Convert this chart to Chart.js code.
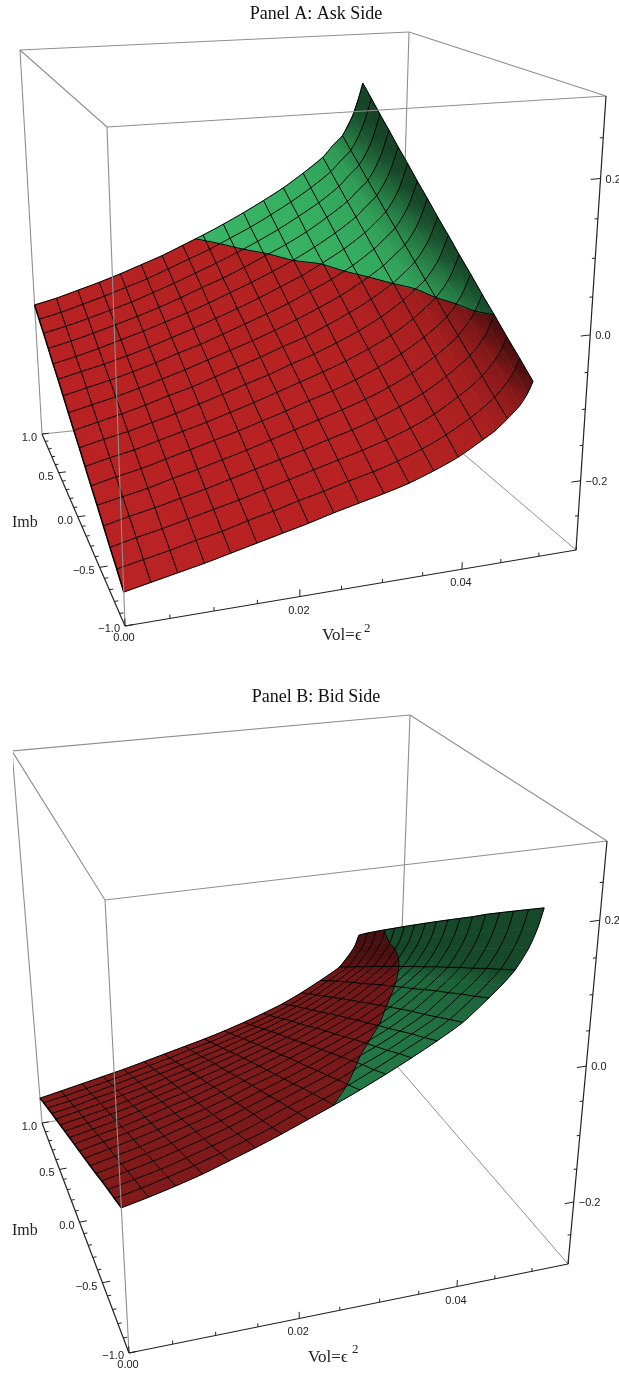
<!DOCTYPE html>
<html>
<head>
<meta charset="utf-8">
<title>Panel A and B</title>
<script src="https://cdn.jsdelivr.net/npm/chart.js@4"></script>
<style>
  body { margin: 0; background: #fff; }
  canvas { display: block; }
</style>
</head>
<body>
<canvas id="ask-chart" width="619" height="660"></canvas>
<canvas id="bid-chart" width="619" height="714"></canvas>
<script>
// rows of the surface tables; the last cell has extra rows because the sheet curls there
const volRows = [0, 0.003, 0.006, 0.009, 0.012, 0.015, 0.018, 0.021, 0.024, 0.027, 0.03, 0.033, 0.036, 0.039, 0.042, 0.0435, 0.045, 0.0465, 0.0474, 0.048];
const volMesh = [0, 0.003, 0.006, 0.009, 0.012, 0.015, 0.018, 0.021, 0.024, 0.027, 0.03, 0.033, 0.036, 0.039, 0.042, 0.045, 0.048];
const imbGrid = [-1, -0.875, -0.75, -0.625, -0.5, -0.375, -0.25, -0.125, 0, 0.125, 0.25, 0.375, 0.5, 0.625, 0.75, 0.875, 1];

// one row per vol value, one column per imb value
const askZ = [
  [-0.255, -0.244, -0.234, -0.223, -0.212, -0.202, -0.191, -0.180, -0.170, -0.159, -0.148, -0.137, -0.127, -0.116, -0.105, -0.095, -0.084],
  [-0.248, -0.237, -0.226, -0.215, -0.205, -0.194, -0.183, -0.172, -0.162, -0.151, -0.140, -0.129, -0.119, -0.108, -0.097, -0.087, -0.076],
  [-0.241, -0.230, -0.219, -0.208, -0.198, -0.187, -0.176, -0.165, -0.154, -0.143, -0.132, -0.121, -0.110, -0.099, -0.088, -0.077, -0.066],
  [-0.234, -0.222, -0.211, -0.200, -0.189, -0.178, -0.167, -0.156, -0.145, -0.134, -0.123, -0.112, -0.100, -0.089, -0.078, -0.067, -0.056],
  [-0.226, -0.215, -0.203, -0.192, -0.181, -0.169, -0.158, -0.147, -0.135, -0.124, -0.113, -0.102, -0.090, -0.079, -0.068, -0.056, -0.045],
  [-0.218, -0.206, -0.195, -0.183, -0.172, -0.160, -0.149, -0.137, -0.126, -0.114, -0.102, -0.091, -0.079, -0.068, -0.056, -0.045, -0.033],
  [-0.210, -0.198, -0.186, -0.174, -0.163, -0.151, -0.139, -0.127, -0.115, -0.103, -0.092, -0.080, -0.068, -0.056, -0.044, -0.032, -0.021],
  [-0.202, -0.189, -0.177, -0.165, -0.153, -0.141, -0.129, -0.116, -0.104, -0.092, -0.080, -0.068, -0.056, -0.043, -0.031, -0.019, -0.007],
  [-0.193, -0.181, -0.168, -0.156, -0.143, -0.131, -0.118, -0.106, -0.093, -0.081, -0.068, -0.056, -0.043, -0.031, -0.018, -0.006, 0.007],
  [-0.185, -0.172, -0.159, -0.146, -0.133, -0.120, -0.107, -0.094, -0.081, -0.069, -0.056, -0.043, -0.030, -0.017, -0.004, 0.009, 0.022],
  [-0.177, -0.164, -0.150, -0.137, -0.123, -0.110, -0.096, -0.083, -0.070, -0.056, -0.043, -0.029, -0.016, -0.002, 0.011, 0.024, 0.038],
  [-0.168, -0.154, -0.140, -0.126, -0.112, -0.098, -0.084, -0.070, -0.056, -0.042, -0.028, -0.015, -0.001, 0.013, 0.027, 0.041, 0.055],
  [-0.156, -0.142, -0.128, -0.113, -0.099, -0.084, -0.070, -0.056, -0.041, -0.027, -0.013, 0.002, 0.016, 0.030, 0.045, 0.059, 0.073],
  [-0.142, -0.127, -0.113, -0.098, -0.083, -0.068, -0.054, -0.039, -0.024, -0.009, 0.005, 0.020, 0.035, 0.050, 0.064, 0.079, 0.094],
  [-0.123, -0.108, -0.093, -0.078, -0.063, -0.048, -0.033, -0.018, -0.003, 0.012, 0.027, 0.042, 0.057, 0.072, 0.087, 0.102, 0.117],
  [-0.113, -0.097, -0.082, -0.066, -0.051, -0.036, -0.020, -0.005, 0.010, 0.026, 0.041, 0.056, 0.072, 0.087, 0.103, 0.118, 0.134],
  [-0.099, -0.084, -0.068, -0.053, -0.037, -0.022, -0.006, 0.009, 0.025, 0.040, 0.056, 0.071, 0.087, 0.102, 0.118, 0.133, 0.149],
  [-0.083, -0.066, -0.050, -0.034, -0.017, -0.001, 0.015, 0.031, 0.048, 0.064, 0.080, 0.096, 0.113, 0.129, 0.145, 0.162, 0.178],
  [-0.068, -0.051, -0.034, -0.016, 0.001, 0.018, 0.035, 0.052, 0.069, 0.086, 0.103, 0.120, 0.137, 0.154, 0.171, 0.188, 0.205],
  [-0.053, -0.035, -0.018, 0.000, 0.017, 0.035, 0.052, 0.070, 0.087, 0.105, 0.122, 0.140, 0.157, 0.175, 0.192, 0.210, 0.227],
];
const bidZ = [
  [-0.090, -0.100, -0.110, -0.120, -0.131, -0.141, -0.151, -0.161, -0.171, -0.181, -0.191, -0.201, -0.211, -0.221, -0.231, -0.241, -0.252],
  [-0.082, -0.092, -0.102, -0.112, -0.123, -0.133, -0.143, -0.153, -0.163, -0.174, -0.184, -0.194, -0.204, -0.215, -0.225, -0.235, -0.245],
  [-0.073, -0.083, -0.094, -0.104, -0.114, -0.125, -0.135, -0.145, -0.156, -0.166, -0.176, -0.187, -0.197, -0.207, -0.218, -0.228, -0.238],
  [-0.063, -0.073, -0.084, -0.094, -0.105, -0.115, -0.126, -0.136, -0.147, -0.157, -0.168, -0.179, -0.189, -0.200, -0.210, -0.221, -0.231],
  [-0.051, -0.062, -0.073, -0.084, -0.094, -0.105, -0.116, -0.127, -0.137, -0.148, -0.159, -0.170, -0.181, -0.191, -0.202, -0.213, -0.224],
  [-0.039, -0.050, -0.062, -0.073, -0.084, -0.095, -0.106, -0.117, -0.128, -0.139, -0.150, -0.161, -0.172, -0.183, -0.194, -0.205, -0.216],
  [-0.026, -0.038, -0.049, -0.060, -0.072, -0.083, -0.095, -0.106, -0.117, -0.129, -0.140, -0.151, -0.163, -0.174, -0.186, -0.197, -0.208],
  [-0.012, -0.023, -0.035, -0.047, -0.059, -0.071, -0.082, -0.094, -0.106, -0.118, -0.130, -0.141, -0.153, -0.165, -0.177, -0.188, -0.200],
  [0.002, -0.010, -0.022, -0.034, -0.047, -0.059, -0.071, -0.083, -0.095, -0.107, -0.119, -0.131, -0.144, -0.156, -0.168, -0.180, -0.192],
  [0.017, 0.004, -0.008, -0.021, -0.033, -0.046, -0.058, -0.070, -0.083, -0.095, -0.108, -0.120, -0.133, -0.145, -0.158, -0.170, -0.183],
  [0.033, 0.020, 0.008, -0.005, -0.018, -0.031, -0.044, -0.057, -0.070, -0.083, -0.096, -0.108, -0.121, -0.134, -0.147, -0.160, -0.173],
  [0.050, 0.037, 0.023, 0.010, -0.003, -0.016, -0.030, -0.043, -0.056, -0.069, -0.083, -0.096, -0.109, -0.122, -0.136, -0.149, -0.162],
  [0.068, 0.054, 0.041, 0.027, 0.013, 0.000, -0.014, -0.027, -0.041, -0.054, -0.068, -0.082, -0.095, -0.109, -0.122, -0.136, -0.150],
  [0.088, 0.074, 0.060, 0.046, 0.033, 0.019, 0.005, -0.009, -0.023, -0.037, -0.051, -0.065, -0.079, -0.093, -0.107, -0.121, -0.135],
  [0.116, 0.101, 0.087, 0.072, 0.058, 0.043, 0.028, 0.014, -0.001, -0.015, -0.030, -0.045, -0.059, -0.074, -0.088, -0.103, -0.118],
  [0.131, 0.116, 0.101, 0.086, 0.071, 0.056, 0.041, 0.026, 0.011, -0.004, -0.019, -0.034, -0.049, -0.064, -0.079, -0.094, -0.109],
  [0.149, 0.133, 0.118, 0.102, 0.087, 0.071, 0.056, 0.040, 0.025, 0.009, -0.006, -0.022, -0.037, -0.053, -0.068, -0.084, -0.099],
  [0.176, 0.160, 0.144, 0.128, 0.112, 0.096, 0.080, 0.064, 0.048, 0.032, 0.016, 0.000, -0.016, -0.032, -0.048, -0.064, -0.080],
  [0.201, 0.184, 0.167, 0.151, 0.134, 0.117, 0.101, 0.084, 0.067, 0.050, 0.034, 0.017, 0.000, -0.016, -0.033, -0.050, -0.066],
  [0.226, 0.209, 0.192, 0.175, 0.158, 0.140, 0.123, 0.106, 0.089, 0.072, 0.055, 0.038, 0.021, 0.004, -0.013, -0.030, -0.048],
];

// vol where the surface turns from red to green, one value per imb value
const askSwitchVol = [0.054, 0.051, 0.0492, 0.048, 0.0471, 0.0462, 0.045, 0.0437, 0.0419, 0.0399, 0.0378, 0.0357, 0.0329, 0.0305, 0.0279, 0.0255, 0.0229];
const bidSwitchVol = [0.0239, 0.0267, 0.029, 0.0311, 0.0336, 0.0362, 0.0383, 0.0405, 0.0426, 0.0444, 0.0458, 0.0467, 0.0473, 0.0479, 0.0489, 0.051, 0.054];

const volTicks = [0, 0.005, 0.01, 0.015, 0.02, 0.025, 0.03, 0.035, 0.04, 0.045, 0.05, 0.055];
const volLabels = [0, 0.02, 0.04];
const imbTicks = [-1, -0.9, -0.8, -0.7, -0.6, -0.5, -0.4, -0.3, -0.2, -0.1, 0, 0.1, 0.2, 0.3, 0.4, 0.5, 0.6, 0.7, 0.8, 0.9, 1];
const imbLabels = [-1, -0.5, 0, 0.5, 1];
const zTicks = [-0.25, -0.2, -0.15, -0.1, -0.05, 0, 0.05, 0.1, 0.15, 0.2, 0.25];
const zLabels = [-0.2, 0, 0.2];

const VOL_MAX = 0.055;
const VOL_STEP = 0.003;
const GRAY = '#8f8f8f';
const SERIF = '"Liberation Serif", serif';
const SANS = '"Liberation Sans", sans-serif';
const TITLE_SIZE = 18;

const askPanel = {
  canvas: 'ask-chart', title: 'Panel A: Ask Side', top: 0, height: 660, titleTop: 3,
  z: askZ, switchVol: askSwitchVol, zMin: -0.3, zMax: 0.3,
  red: [188, 35, 35], green: [58, 190, 105], shadeScale: 0.065, shadeFloor: 0.36,
  // box corners on the page, named vol/imb/z with 0 = low and 1 = high
  c000: [125, 626], c100: [576, 550], c010: [42, 434], c110: [398, 398],
  c001: [107, 127], c101: [606, 96], c011: [20, 50], c111: [409, 32],
  imbTitle: [12, 527], volTitle: [322, 640], volExp: [364, 632],
};
const bidPanel = {
  canvas: 'bid-chart', title: 'Panel B: Bid Side', top: 660, height: 714, titleTop: 26,
  z: bidZ, switchVol: bidSwitchVol, zMin: -0.296, zMax: 0.303,
  red: [134, 27, 27], green: [38, 132, 76], shadeScale: 0.05, shadeFloor: 0.55,
  c000: [129, 1353], c100: [568, 1264], c010: [42, 1123], c110: [397, 1066],
  c001: [105, 900], c101: [607, 841], c011: [12, 751], c111: [410, 715],
  imbTitle: [12, 1235], volTitle: [308, 1362], volExp: [352, 1353],
};

function lerp(a, b, t) {
  return a + (b - a) * t;
}

function warp(t, k) {
  return (t * (1 + k)) / (1 + k * t);
}

// u, v, w are already warped box fractions
function place(p, u, v, w) {
  const out = {};
  [['x', 0], ['y', 1]].forEach(([key, n]) => {
    const low = lerp(lerp(p.c000[n], p.c100[n], u), lerp(p.c010[n], p.c110[n], u), v);
    const high = lerp(lerp(p.c001[n], p.c101[n], u), lerp(p.c011[n], p.c111[n], u), v);
    out[key] = lerp(low, high, w);
  });
  return out;
}

const uOf = (vol) => warp(vol / VOL_MAX, 0.108);
const vOf = (imb) => warp((imb + 1) / 2, 0.32);
const wOf = (p, z) => warp((z - p.zMin) / (p.zMax - p.zMin), -0.1);

function project(p, pt) {
  return place(p, uOf(pt.vol), vOf(pt.imb), wOf(p, pt.z));
}

function lineSet(data, color, width, tension) {
  return { data, showLine: true, pointRadius: 0, borderColor: color, borderWidth: width, fill: false, tension: tension || 0 };
}

function shadeOf(p, i, j) {
  const z = p.z;
  const a = Math.max(i - 1, 0);
  const b = Math.min(i + 1, volRows.length - 1);
  const s = Math.abs((z[b][j] - z[a][j]) / (volRows[b] - volRows[a])) * VOL_STEP;
  return Math.max(p.shadeFloor, 1 / (1 + Math.pow(s / p.shadeScale, 2)));
}

function rgb(base, shade) {
  return `rgb(${base.map((c) => Math.round(c * shade)).join(',')})`;
}

// keeps the side of the polygon where side(pt) has the wanted sign
function clipPoly(poly, side, sign) {
  const out = [];
  poly.forEach((a, n) => {
    const b = poly[(n + 1) % poly.length];
    const fa = side(a) * sign;
    const fb = side(b) * sign;
    if (fa >= 0) out.push(a);
    if ((fa >= 0) !== (fb >= 0)) {
      const t = fa / (fa - fb);
      out.push({ vol: lerp(a.vol, b.vol, t), imb: lerp(a.imb, b.imb, t), z: lerp(a.z, b.z, t) });
    }
  });
  return out;
}

function cellGradient(ctx, p, base, i, j) {
  const at = (ii, jj) => project(p, { vol: volRows[ii], imb: imbGrid[jj], z: p.z[ii][jj] });
  const a = at(i, j);
  const b = at(i, j + 1);
  const c = at(i + 1, j);
  const d = at(i + 1, j + 1);
  const g = ctx.createLinearGradient((a.x + b.x) / 2, (a.y + b.y) / 2 - p.top, (c.x + d.x) / 2, (c.y + d.y) / 2 - p.top);
  g.addColorStop(0, rgb(base, (shadeOf(p, i, j) + shadeOf(p, i, j + 1)) / 2));
  g.addColorStop(1, rgb(base, (shadeOf(p, i + 1, j) + shadeOf(p, i + 1, j + 1)) / 2));
  return g;
}

function surfaceSets(p, ctx) {
  const sets = [];
  for (let i = volRows.length - 2; i >= 0; i--) {
    for (let j = 0; j < imbGrid.length - 1; j++) {
      const cell = [[i, j], [i + 1, j], [i + 1, j + 1], [i, j + 1]].map(([a, b]) => ({ vol: volRows[a], imb: imbGrid[b], z: p.z[a][b] }));
      const side = (pt) => pt.vol - lerp(p.switchVol[j], p.switchVol[j + 1], (pt.imb - imbGrid[j]) / (imbGrid[j + 1] - imbGrid[j]));
      [[p.red, -1], [p.green, 1]].forEach(([base, sign]) => {
        const poly = clipPoly(cell, side, sign);
        if (poly.length < 3) return;
        const data = poly.map((pt) => project(p, pt));
        const paint = cellGradient(ctx, p, base, i, j);
        sets.push({
          data: data.concat([data[0]]),
          showLine: true,
          pointRadius: 0,
          // same paint on the border so neighbouring cells leave no seam
          borderWidth: 0.7,
          borderColor: paint,
          fill: 'shape',
          backgroundColor: paint,
        });
      });
    }
  }
  return sets;
}

function meshSets(p) {
  const sets = [];
  imbGrid.forEach((imb, j) => {
    sets.push(lineSet(volRows.map((vol, i) => project(p, { vol, imb, z: p.z[i][j] })), '#000', 1, 0.3));
  });
  volRows.forEach((vol, i) => {
    if (!volMesh.includes(vol)) return;
    sets.push(lineSet(imbGrid.map((imb, j) => project(p, { vol, imb, z: p.z[i][j] })), '#000', i === 0 ? 1.5 : 1));
  });
  // red/green edge
  const edge = [];
  imbGrid.forEach((imb, j) => {
    const vol = p.switchVol[j];
    if (vol > volRows[volRows.length - 1]) return;
    const i = Math.min(volRows.findIndex((v) => v > vol) - 1, volRows.length - 2);
    const z = lerp(p.z[i < 0 ? volRows.length - 2 : i][j], p.z[i < 0 ? volRows.length - 1 : i + 1][j], i < 0 ? 1 : (vol - volRows[i]) / (volRows[i + 1] - volRows[i]));
    edge.push(project(p, { vol, imb, z }));
  });
  sets.push(lineSet(edge, '#000', 1, 0.3));
  return sets;
}

function boxSets(p, front) {
  const seg = (a, b, color, width) => lineSet([{ x: a[0], y: a[1] }, { x: b[0], y: b[1] }], color, width);
  if (!front) {
    return [
      seg(p.c011, p.c111, GRAY, 1.1),
      seg(p.c011, p.c010, GRAY, 1.1),
      seg(p.c111, p.c110, GRAY, 1.1),
      seg(p.c111, p.c101, GRAY, 1.1),
      seg(p.c010, p.c110, GRAY, 1),
      seg(p.c100, p.c110, GRAY, 1),
      seg(p.c011, p.c001, GRAY, 1.1),
    ];
  }
  return [
    seg(p.c001, p.c101, GRAY, 1.1),
    seg(p.c001, p.c000, GRAY, 1.1),
    seg(p.c000, p.c100, '#222', 1.2),
    seg(p.c000, p.c010, '#222', 1.2),
    seg(p.c100, p.c101, '#222', 1.2),
  ];
}

function tickSets(p) {
  const sets = [];
  const near = (a, b) => Math.abs(a - b) < 1e-9;
  volTicks.forEach((t) => {
    const u = uOf(t);
    const len = volLabels.some((l) => near(l, t)) ? 0.015 : 0.008;
    sets.push(lineSet([place(p, u, 0, 0), place(p, u, 0, len)], '#222', 1));
  });
  imbTicks.forEach((t) => {
    const v = vOf(t);
    const len = imbLabels.some((l) => near(l, t)) ? 0.019 : 0.009;
    sets.push(lineSet([place(p, 0, v, 0), place(p, len, v, 0)], '#222', 1));
  });
  zTicks.forEach((t) => {
    const w = wOf(p, t);
    const len = zLabels.some((l) => near(l, t)) ? 0.02 : 0.007;
    sets.push(lineSet([place(p, 1, 0, w), place(p, 1 - len, 0, w)], '#222', 1));
  });
  return sets;
}

function panelLabels(p) {
  return {
    id: 'panelLabels',
    afterDraw(chart) {
      const { ctx, scales } = chart;
      const text = (str, x, y, align, font) => {
        ctx.font = font;
        ctx.textAlign = align;
        ctx.textBaseline = 'alphabetic';
        ctx.fillStyle = '#222';
        ctx.fillText(str, scales.x.getPixelForValue(x), scales.y.getPixelForValue(y));
      };
      const tickFont = `11px ${SANS}`;
      const fmt = (v, d) => (v < 0 ? '\u2212' : '') + Math.abs(v).toFixed(d);
      ctx.save();
      imbLabels.forEach((t) => {
        const a = place(p, 0, vOf(t), 0);
        text(fmt(t, 1), a.x - 5, a.y + (t === -1 ? 6 : 7), 'right', tickFont);
      });
      volLabels.forEach((t) => {
        const a = place(p, uOf(t), 0, 0);
        text(fmt(t, 2), a.x - 1, a.y + (t === 0 ? 15 : 17), 'center', tickFont);
      });
      zLabels.forEach((t) => {
        const a = place(p, 1, 0, wOf(p, t));
        text(fmt(t, 1), a.x + 5, a.y + 4, 'left', tickFont);
      });
      text('Imb', p.imbTitle[0], p.imbTitle[1], 'left', `16px ${SERIF}`);
      text('Vol=\u03f5', p.volTitle[0], p.volTitle[1], 'left', `17px ${SERIF}`);
      text('2', p.volExp[0], p.volExp[1], 'left', `13px ${SERIF}`);
      ctx.restore();
    },
  };
}

function drawPanel(p) {
  const canvas = document.getElementById(p.canvas);
  const ctx = canvas.getContext('2d');
  const painted = [].concat(boxSets(p, false), surfaceSets(p, ctx), meshSets(p), boxSets(p, true), tickSets(p));
  const titleHeight = p.titleTop + TITLE_SIZE * 1.2;
  return new Chart(canvas, {
    type: 'scatter',
    // chart.js paints the first dataset last
    data: { datasets: painted.reverse() },
    options: {
      responsive: false,
      animation: false,
      events: [],
      layout: { padding: { left: 13 } },
      plugins: {
        legend: { display: false },
        tooltip: { enabled: false },
        title: {
          display: true,
          text: p.title,
          fullSize: false,
          color: '#111',
          font: { family: SERIF, size: TITLE_SIZE, weight: 'normal', lineHeight: 1.2 },
          padding: { top: p.titleTop, bottom: 0 },
        },
      },
      scales: {
        x: { type: 'linear', display: false, min: 13, max: 619 },
        y: { type: 'linear', display: false, reverse: true, min: p.top + titleHeight, max: p.top + p.height },
      },
    },
    plugins: [panelLabels(p)],
  });
}

drawPanel(askPanel);
drawPanel(bidPanel);
</script>
</body>
</html>
